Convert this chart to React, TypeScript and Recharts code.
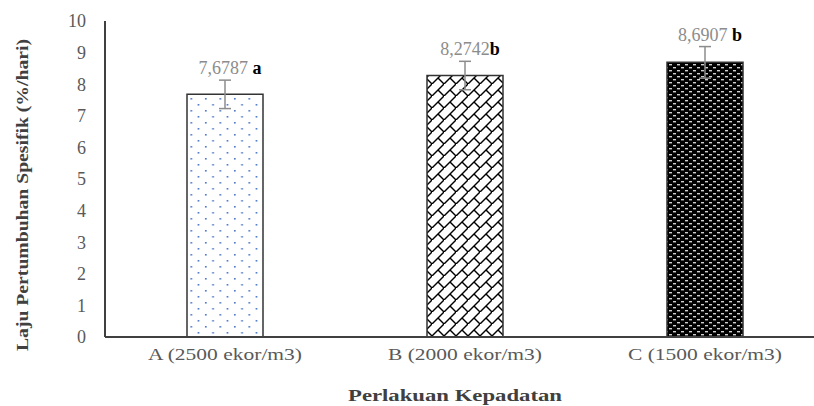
import * as React from 'react';
import { Bar, BarChart, Cell, ErrorBar, LabelList, XAxis, YAxis } from 'recharts';

// nilai dibaca dari grafik asli
const categories = ['A (2500 ekor/m3)', 'B (2000 ekor/m3)', 'C (1500 ekor/m3)'];
const growthRate = [7.6787, 8.2742, 8.6907];
const stdDev = [0.45, 0.45, 0.5];
const notation = [' a', 'b', ' b'];
const yTicks = [0, 1, 2, 3, 4, 5, 6, 7, 8, 9, 10];

const data = categories.map((name, i) => ({
  name,
  value: growthRate[i],
  err: stdDev[i],
}));

const patternIds = ['patDots', 'patBrick', 'patShingle'];
const serif = '"Liberation Serif", "Times New Roman", serif';

function ValueLabel(props: any) {
  const { x, y, width, height, value, index } = props;
  const pxPerUnit = height / value;
  const errTop = y - stdDev[index] * pxPerUnit;
  const text = Number(value).toFixed(4).replace('.', ',');
  return (
    <text
      x={x + width / 2 + 5}
      y={errTop - 6}
      textAnchor="middle"
      fontFamily={serif}
      fontSize={18}
    >
      <tspan fill="#8c8c8c">{text}</tspan>
      <tspan fill="#000" fontWeight="bold" style={{ whiteSpace: 'pre' }}>
        {notation[index]}
      </tspan>
    </text>
  );
}

function CategoryTick(props: any) {
  const { x, y, payload } = props;
  return (
    <text
      x={x}
      y={y + 21}
      textAnchor="middle"
      fontFamily={serif}
      fontSize={17}
      fill="#595959"
      textLength={154}
      lengthAdjust="spacingAndGlyphs"
    >
      {payload.value}
    </text>
  );
}

function YTitle(props: any) {
  const { viewBox } = props;
  const cy = viewBox.y + viewBox.height / 2 + 16;
  return (
    <text
      x={28}
      y={cy}
      transform={`rotate(-90, 28, ${cy})`}
      textAnchor="middle"
      fontFamily={serif}
      fontSize={17}
      fontWeight="bold"
      fill="#404040"
      textLength={312}
      lengthAdjust="spacingAndGlyphs"
    >
      Laju Pertumbuhan Spesifik (%/hari)
    </text>
  );
}

function XTitle(props: any) {
  const { viewBox } = props;
  const cx = viewBox.x + viewBox.width / 2 - 10;
  return (
    <text
      x={cx}
      y={401}
      textAnchor="middle"
      fontFamily={serif}
      fontSize={17}
      fontWeight="bold"
      fill="#404040"
      textLength={214}
      lengthAdjust="spacingAndGlyphs"
    >
      Perlakuan Kepadatan
    </text>
  );
}

export default function App() {
  return (
    <div
      style={{
        position: 'fixed',
        left: 0,
        top: 0,
        width: 814,
        height: 406,
        overflow: 'hidden',
        background: '#fff',
      }}
    >
      <BarChart
        width={830}
        height={406}
        data={data}
        margin={{ top: 21, right: 5, left: 45, bottom: 39 }}
      >
        <defs>
          <pattern id="patDots" width="14.5" height="12" patternUnits="userSpaceOnUse">
            <rect width="14.5" height="12" fill="#fff" />
            <rect x="2" y="2" width="1.6" height="1.6" fill="#4472c4" />
            <rect x="9.25" y="8" width="1.6" height="1.6" fill="#4472c4" />
          </pattern>
          <pattern id="patBrick" width="12" height="12" patternUnits="userSpaceOnUse">
            <rect width="12" height="12" fill="#fff" />
            <path d="M-1,13 L13,-1" stroke="#000" strokeWidth="1.4" />
            <path d="M6,6 L12,12" stroke="#000" strokeWidth="1.4" />
          </pattern>
          <pattern id="patShingle" width="8" height="6" patternUnits="userSpaceOnUse">
            <rect width="8" height="6" fill="#000" />
            <rect x="1" y="1" width="3" height="1.4" fill="#d0d0d0" />
            <rect x="5" y="4" width="3" height="1.4" fill="#d0d0d0" />
          </pattern>
        </defs>
        <XAxis
          dataKey="name"
          axisLine={{ stroke: '#404040', strokeWidth: 2 }}
          tickLine={false}
          tickSize={0}
          height={30}
          tick={<CategoryTick />}
          label={<XTitle />}
        />
        <YAxis
          domain={[0, 10]}
          ticks={yTicks}
          interval={0}
          axisLine={{ stroke: '#404040', strokeWidth: 2 }}
          tickLine={false}
          tickSize={0}
          tickMargin={19}
          width={60}
          tick={{ fill: '#595959', fontSize: 18, fontFamily: serif }}
          label={<YTitle />}
        />
        <Bar
          dataKey="value"
          barSize={76}
          stroke="#333"
          strokeWidth={1.5}
          isAnimationActive={false}
        >
          {data.map((d, i) => (
            <Cell key={d.name} fill={`url(#${patternIds[i]})`} />
          ))}
          <ErrorBar dataKey="err" width={6} stroke="#8c8c8c" strokeWidth={1.5} direction="y" />
          <LabelList dataKey="value" content={<ValueLabel />} />
        </Bar>
      </BarChart>
    </div>
  );
}
